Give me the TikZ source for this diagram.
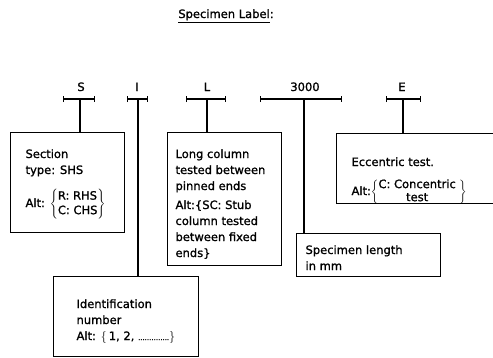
\documentclass[tikz,border=0pt]{standalone}
\usepackage{fontspec}
\setmainfont[FakeBold=1.2]{DejaVu Sans}
\usetikzlibrary{arrows.meta,calc}
\begin{document}
\begin{tikzpicture}[x=1pt,y=-1pt, line width=1.1pt,
 box/.style={draw, rectangle, inner sep=0pt, anchor=north west},
 txt/.style={font=\fontsize{11.5}{16}\selectfont, align=left, inner sep=0pt, anchor=base west},
 alt/.style={font=\fontsize{11.5}{14.5}\selectfont, align=left, inner sep=0pt, anchor=base west},
 lab/.style={font=\fontsize{11.5}{14}\selectfont, inner sep=0pt, anchor=base},
 brk/.style={{Bar[width=6pt]}-{Bar[width=6pt]}}]
\useasboundingbox (0,0) rectangle (493,357);

% title and label letters
\node[lab] (title) at (226,18) {\underline{Specimen Label}:};
\node[lab] (S) at (81,91) {S};
\node[lab] (I) at (137,91) {I};
\node[lab] (L) at (207,91) {L};
\node[lab] (N) at (305,91) {3000};
\node[lab] (E) at (402,91) {E};

% boxes
\node[box, minimum width=114pt, minimum height=100pt] (sbox) at (10,132) {};
\node[box, minimum width=145pt, minimum height=80pt] (ibox) at (53,276) {};
\node[box, minimum width=114pt, minimum height=133pt] (lbox) at (167,132) {};
\node[box, minimum width=144pt, minimum height=43pt] (pbox) at (296,233) {};
\node[box, minimum width=175pt, minimum height=70pt] (ebox) at (336,133) {};

% brackets
\coordinate (sl) at (63,99);  \coordinate (sr) at (95,99);  \coordinate (sm) at (80,99);
\coordinate (il) at (127,99); \coordinate (ir) at (148,99); \coordinate (im) at (138,99);
\coordinate (ll) at (186,99); \coordinate (lr) at (226,99); \coordinate (lm) at (207,99);
\coordinate (nl) at (260,99); \coordinate (nr) at (342,99); \coordinate (nm) at (304,99);
\coordinate (el) at (386,99); \coordinate (er) at (421,99); \coordinate (em) at (403,99);
\draw[brk] (sl) -- (sr);
\draw[brk] (il) -- (ir);
\draw[brk] (ll) -- (lr);
\draw[brk] (nl) -- (nr);
\draw[brk] (el) -- (er);
\draw (sm) -- (sm |- sbox.north);
\draw (im) -- (im |- ibox.north);
\draw (lm) -- (lm |- lbox.north);
\draw (nm) -- (nm |- pbox.north);
\draw (em) -- (em |- ebox.north);

% texts (base anchor = baseline of last line)
\node[txt] (stxt) at (25,174) {Section\\type: SHS};
\node[alt] (salt) at (25,207) {Alt: $\left\{\begin{tabular}{@{}l@{}}R: RHS\\C: CHS\end{tabular}\right\}$};

\node[txt] (ltxt) at (175,257) {Long column\\tested between\\pinned ends\\[3pt]Alt:\{SC: Stub\\column tested\\between fixed\\ends\}};

\node[txt] (etxt) at (351,166) {Eccentric test.};
\node[alt] (ealt) at (351,195) {\renewcommand\arraystretch{0.9}Alt:$\left\{\begin{tabular}{@{}c@{}}C: Concentric\\test\end{tabular}\;\right\}$};

\node[txt] (ptxt) at (305,270) {Specimen length\\in mm};

\node[txt] (itxt) at (76,340) {Identification\\number\\Alt: $\smash{\big\{}$\,1, 2, {\fontsize{7}{7}\selectfont ..............}$\smash{\big\}}$};
\end{tikzpicture}
\end{document}
